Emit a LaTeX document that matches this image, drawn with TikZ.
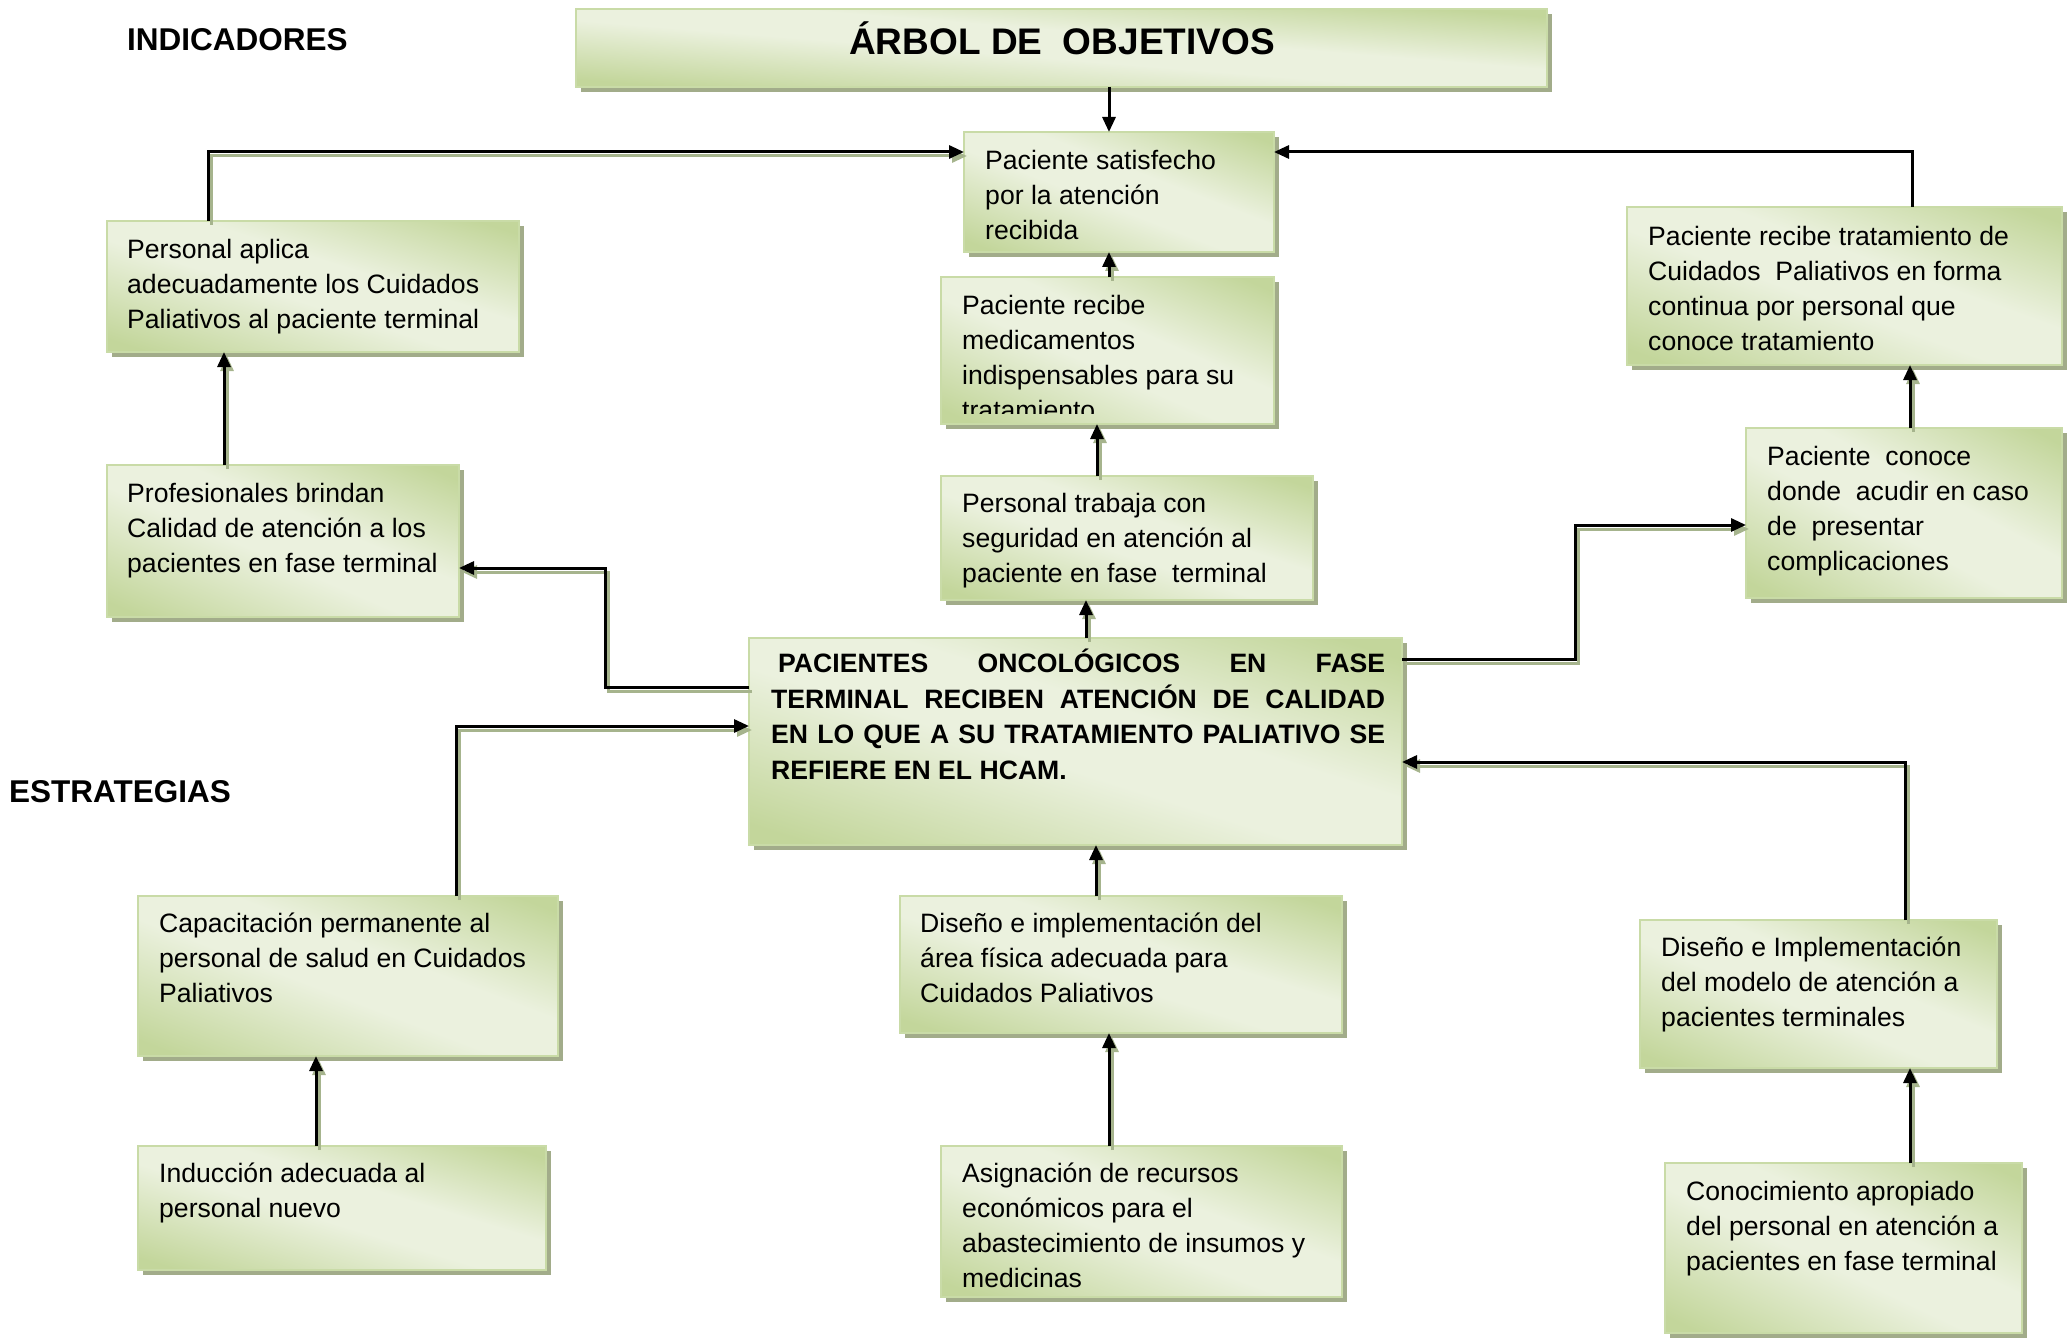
\documentclass[tikz,border=0pt]{standalone}
\usepackage{fontspec}
\setmainfont{Liberation Sans}
\usetikzlibrary{arrows.meta}

\definecolor{gdark}{HTML}{C3D69B}
\definecolor{glight}{HTML}{EBF1DE}
\definecolor{gborder}{HTML}{C9DBA7}
\definecolor{boxshadow}{HTML}{A2AC8A}
\definecolor{lineshadow}{HTML}{A6B48D}

% light band along one diagonal, darker towards the other two corners
\pgfdeclareverticalshading{boxgrad}{100bp}{color(0bp)=(gdark); color(18bp)=(gdark); color(45bp)=(glight); color(58bp)=(glight); color(82bp)=(gdark); color(100bp)=(gdark)}

\newcommand\topstrut{\rule{0pt}{26pt}}
\newcommand\linkpath[1]{\draw[connshadow] #1; \draw[connline] #1;}
% \gbox{name}{left}{top}{width}{height}: offset shadow, diagonal shading, framed node
\newcommand\gbox[5]{%
  \fill[boxshadow] (#2+5,#3+5) rectangle ++(#4,#5);
  \begin{scope}[transform canvas={shift={(#2pt,-#3pt-#5pt)}, xscale=#4/100, yscale=#5/100}]
    \shade[shading=boxgrad, shading angle=-45] (0pt,0pt) rectangle (100pt,100pt);
  \end{scope}
  \node[gbox, minimum width=#4pt, minimum height=#5pt] (#1) at (#2,#3) {};}

\tikzset{
  gbox/.style={anchor=north west, rectangle, inner sep=0pt, outer sep=0pt,
    draw=gborder, line width=2pt},
  txt/.style={anchor=north west, inner sep=0pt, align=left,
    font=\fontsize{26.6}{35}\selectfont},
  head/.style={inner sep=0pt, font=\fontsize{31.5}{38}\selectfont\bfseries},
  tip/.style={-{Triangle[length=15pt,width=13pt]}},
  connline/.style={tip, draw=black, line width=3pt},
  connshadow/.style={tip, draw=lineshadow, line width=3pt,
    transform canvas={xshift=3pt,yshift=-4pt}},
}

\begin{document}
\begin{tikzpicture}[x=1pt,y=-1pt]
\useasboundingbox (0,0) rectangle (2067,1340);

% section headings
\node[head, anchor=base west] (hind) at (127,51) {INDICADORES};
\node[head, anchor=base west] (hest) at (9,802) {ESTRATEGIAS};

% title
\gbox{title}{576}{9}{971}{78}
\node[inner sep=0pt, anchor=base, font=\fontsize{37}{44}\selectfont\bfseries] (title-t) at (1062,55) {ÁRBOL DE \ OBJETIVOS};

% indicators
\gbox{sat}{964}{132}{310}{120}
\node[txt] (sat-t) at ([shift={(21pt,-11pt)}]sat.north west) {\topstrut Paciente satisfecho\\por la atención\\recibida};

\gbox{pap}{107}{221}{412}{131}
\node[txt] (pap-t) at ([shift={(20pt,-11pt)}]pap.north west) {\topstrut Personal aplica\\adecuadamente los Cuidados\\Paliativos al paciente terminal};

\gbox{med}{941}{277}{333}{147}
\begin{scope}
  \clip (med.north west) rectangle ([yshift=11pt]med.south east);
  \node[txt] (med-t) at ([shift={(21pt,-11pt)}]med.north west) {\topstrut Paciente recibe\\medicamentos\\indispensables para su\\tratamiento};
\end{scope}

\gbox{prt}{1627}{207}{435}{158}
\node[txt] (prt-t) at ([shift={(21pt,-12pt)}]prt.north west) {\topstrut Paciente recibe tratamiento de\\Cuidados \ Paliativos en forma\\continua por personal que\\conoce tratamiento};

\gbox{pro}{107}{465}{352}{152}
\node[txt] (pro-t) at ([shift={(20pt,-11pt)}]pro.north west) {\topstrut Profesionales brindan\\Calidad de atención a los\\pacientes en fase terminal};

\gbox{ptr}{941}{476}{372}{124}
\node[txt] (ptr-t) at ([shift={(21pt,-10pt)}]ptr.north west) {\topstrut Personal trabaja con\\seguridad en atención al\\paciente en fase \ terminal};

\gbox{pco}{1746}{428}{316}{170}
\node[txt] (pco-t) at ([shift={(21pt,-11pt)}]pco.north west) {\topstrut Paciente \ conoce\\donde \ acudir en caso\\de \ presentar\\complicaciones};

% central objective, justified
\gbox{cen}{749}{638}{653}{207}
\node[txt, font=\fontsize{26.6}{35.6}\selectfont\bfseries] (cen-t) at ([shift={(22pt,-8.5pt)}]cen.north west)
  {\hbox to 614pt{\topstrut\hspace*{7pt}PACIENTES\hfill ONCOLÓGICOS\hfill EN\hfill FASE}\\
   \hbox to 614pt{TERMINAL\hfill RECIBEN\hfill ATENCIÓN\hfill DE\hfill CALIDAD}\\
   \hbox to 614pt{EN\hfill LO\hfill QUE\hfill A\hfill SU\hfill TRATAMIENTO\hfill PALIATIVO\hfill SE}\\
   REFIERE EN EL HCAM.};

% strategies
\gbox{cap}{138}{896}{420}{160}
\node[txt] (cap-t) at ([shift={(21pt,-10pt)}]cap.north west) {\topstrut Capacitación permanente al\\personal de salud en Cuidados\\Paliativos};

\gbox{dfi}{900}{896}{442}{137}
\node[txt] (dfi-t) at ([shift={(20pt,-10pt)}]dfi.north west) {\topstrut Diseño e implementación del\\área física adecuada para\\Cuidados Paliativos};

\gbox{dmo}{1640}{920}{357}{148}
\node[txt] (dmo-t) at ([shift={(21pt,-10pt)}]dmo.north west) {\topstrut Diseño e Implementación\\del modelo de atención a\\pacientes terminales};

\gbox{ind}{138}{1146}{408}{124}
\node[txt] (ind-t) at ([shift={(21pt,-10pt)}]ind.north west) {\topstrut Inducción adecuada al\\personal nuevo};

\gbox{asi}{941}{1146}{401}{151}
\node[txt] (asi-t) at ([shift={(21pt,-10pt)}]asi.north west) {\topstrut Asignación de recursos\\económicos para el\\abastecimiento de insumos y\\medicinas};

\gbox{con}{1665}{1163}{357}{170}
\node[txt] (con-t) at ([shift={(21pt,-11pt)}]con.north west) {\topstrut Conocimiento apropiado\\del personal en atención a\\pacientes en fase terminal};

% routing points of the connectors
\coordinate (vmid) at (1109,0);
\coordinate (pA) at (208,152);
\coordinate (qA) at (1912,152);
\coordinate (vpro) at (224,0);
\coordinate (vptr) at (1097,0);
\coordinate (vpco) at (1910,0);
\coordinate (vcen) at (1086,0);
\coordinate (kA) at (605,568);
\coordinate (kB) at (0,687);
\coordinate (rA) at (1575,525);
\coordinate (rB) at (0,659);
\coordinate (sA) at (456,726);
\coordinate (tA) at (1905,762);
\coordinate (vdfi) at (1096,0);
\coordinate (vind) at (316,0);
\coordinate (vcon) at (1910,0);

% connectors
\draw[connline] (title.south -| vmid) -- (sat.north -| vmid);
\draw[connline] (prt.north -| qA) |- (sat.east |- qA);
\linkpath{(pap.north -| pA) |- (sat.west |- pA)}
\linkpath{(med.north -| vmid) -- (sat.south -| vmid)}
\linkpath{(pro.north -| vpro) -- (pap.south -| vpro)}
\linkpath{(ptr.north -| vptr) -- (med.south -| vptr)}
\linkpath{(pco.north -| vpco) -- (prt.south -| vpco)}
\linkpath{(cen.north -| vcen) -- (ptr.south -| vcen)}
\linkpath{(cen.west |- kB) -| (kA) -- (pro.east |- kA)}
\linkpath{(cen.east |- rB) -| (rA) -- (pco.west |- rA)}
\linkpath{(cap.north -| sA) |- (cen.west |- sA)}
\linkpath{(dmo.north -| tA) |- (cen.east |- tA)}
\linkpath{(dfi.north -| vdfi) -- (cen.south -| vdfi)}
\linkpath{(ind.north -| vind) -- (cap.south -| vind)}
\linkpath{(asi.north -| vmid) -- (dfi.south -| vmid)}
\linkpath{(con.north -| vcon) -- (dmo.south -| vcon)}
\end{tikzpicture}
\end{document}
